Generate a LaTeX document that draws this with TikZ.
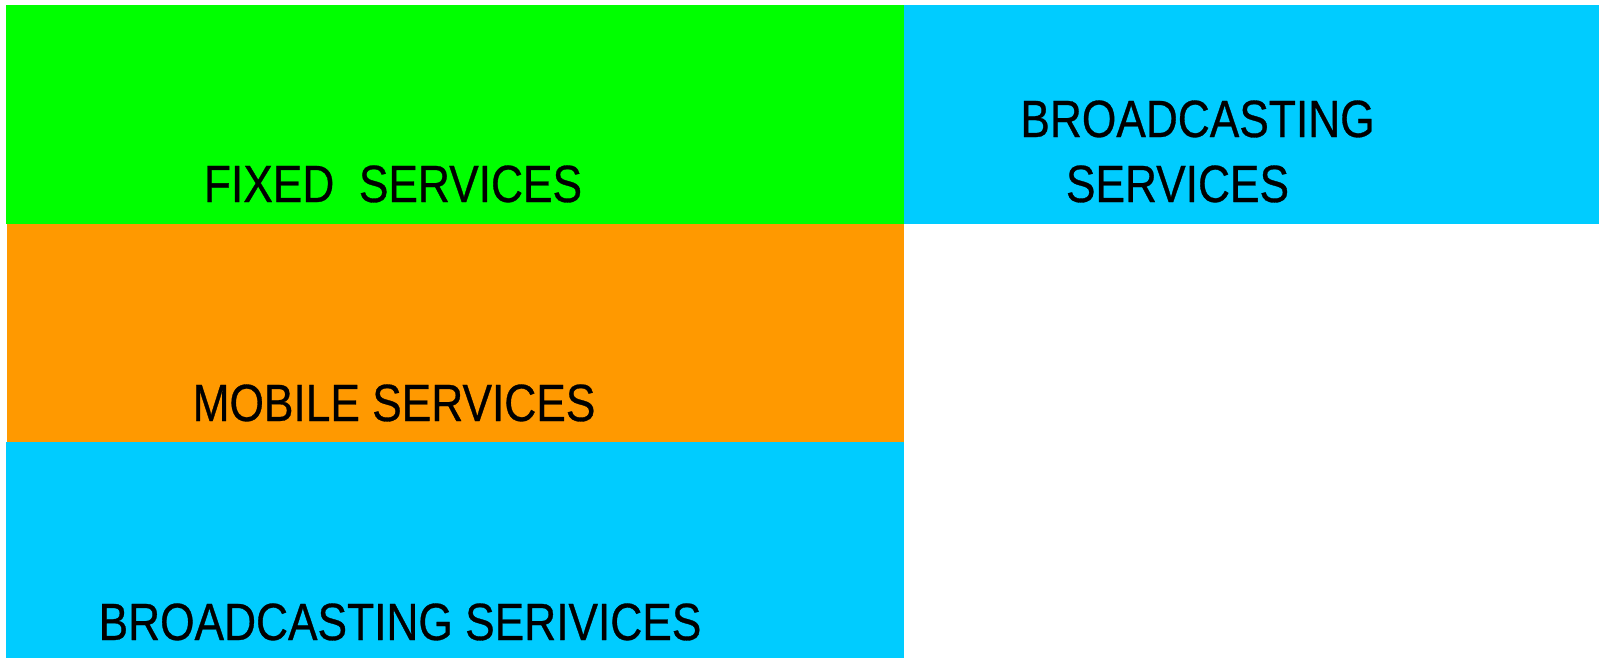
\documentclass[tikz,border=0pt]{standalone}
\usepackage{fontspec}
\setmainfont[FakeStretch=0.845,FakeBold=0.6]{Liberation Sans}
\definecolor{fgreen}{HTML}{00FF00}
\definecolor{morange}{HTML}{FF9900}
\definecolor{bblue}{HTML}{00CCFF}
\tikzset{
  lbl/.style={anchor=base, inner sep=0pt, font=\fontsize{52.4}{60}\selectfont, text=black},
}
\begin{document}
\begin{tikzpicture}[x=1pt,y=-1pt]
\useasboundingbox (0,0) rectangle (1602,658);
\fill[fgreen] (6,5) rectangle (904,224);
\fill[bblue] (904,5) rectangle (1599,224);
\fill[morange] (7,224) rectangle (904,442);
\fill[bblue] (6,442) rectangle (904,658);
\node[lbl] (fixed) at (393,202) {FIXED\ \ SERVICES};
\node[lbl] (bc1) at (1197.5,137) {BROADCASTING};
\node[lbl] (bc2) at (1177.5,202) {SERVICES};
\node[lbl] (mobile) at (394,421) {MOBILE SERVICES};
\node[lbl] (bc3) at (400,640) {BROADCASTING SERIVICES};
\end{tikzpicture}
\end{document}
